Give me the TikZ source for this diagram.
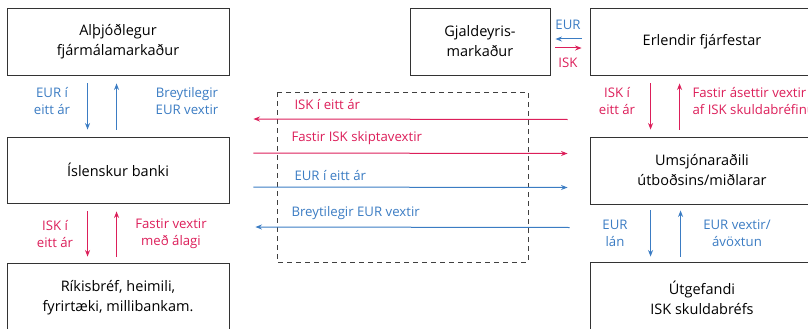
\documentclass[tikz,border=0pt]{standalone}
\usepackage{fontspec}
\setmainfont{Open Sans}
\usepackage{xcolor}
\usetikzlibrary{arrows.meta,positioning}
\definecolor{iskred}{HTML}{DC1F5A}
\definecolor{eurblue}{HTML}{3B7CC3}

\begin{document}
\begin{tikzpicture}[x=1pt,y=-1pt,
  box/.style={draw=black!80, line width=0.9pt, minimum width=222pt,
    minimum height=67pt, inner sep=0pt, align=center,
    font=\fontsize{14.5}{20}\selectfont},
  lab/.style={font=\fontsize{13.2}{17}\selectfont, align=center},
  isk/.style={iskred, line width=1pt, -{Stealth[length=6.5pt,width=5pt]}},
  eur/.style={eurblue, line width=1pt, -{Stealth[length=6.5pt,width=5pt]}}]
\useasboundingbox (0,0) rectangle (808,329);
% ---- left column ----
\node[box] (alth) at (118,41.5) {Alþjóðlegur\\fjármálamarkaður};
\node[box, minimum height=66pt] (bank) at (118,170) {Íslenskur banki};
\node[box, minimum height=70pt] (rikis) at (118,298)
  {Ríkisbréf, heimili,\\fyrirtæki, millibankam.};
\draw[eur] ([xshift=81,yshift=-8]alth.south west) -- ([xshift=81,yshift=7]bank.north west);
\draw[eur] ([xshift=110,yshift=7]bank.north west) -- ([xshift=110,yshift=-8]alth.south west);
\node[lab, eurblue] (eurar) at (52,101.5) {EUR í\\eitt ár};
\node[lab, eurblue] (breyt) at (187,101.5) {Breytilegir\\EUR vextir};
\draw[isk] ([xshift=81,yshift=-8]bank.south west) -- ([xshift=81,yshift=6]rikis.north west);
\draw[isk] ([xshift=110,yshift=6]rikis.north west) -- ([xshift=110,yshift=-8]bank.south west);
\node[lab, iskred] (iskar) at (55,234) {ISK í\\eitt ár};
\node[lab, iskred] (alag) at (171,234) {Fastir vextir\\með álagi};
% ---- right column ----
\node[box, minimum width=140pt] (gjald) at (480,41.5) {Gjaldeyris-\\markaður};
\node[box, minimum width=224pt] (erl) at (702,41.5) {Erlendir fjárfestar};
\node[box, minimum width=224pt] (umsj) at (702,170.5)
  {Umsjónaraðili\\útboðsins/miðlarar};
\node[box, minimum width=224pt, minimum height=72pt] (utg) at (702,298)
  {Útgefandi\\ISK skuldabréfs};
\draw[eur] ([xshift=-8,yshift=2.5]erl.west) -- ([xshift=5,yshift=2.5]gjald.east);
\draw[isk] ([xshift=5,yshift=-6.5]gjald.east) -- ([xshift=-8,yshift=-6.5]erl.west);
\node[lab, eurblue] (fxeur) at (568,25) {EUR};
\node[lab, iskred] (fxisk) at (568,63) {ISK};
\draw[isk] ([xshift=61,yshift=-8]erl.south west) -- ([xshift=61,yshift=7]umsj.north west);
\draw[isk] ([xshift=90,yshift=7]umsj.north west) -- ([xshift=90,yshift=-8]erl.south west);
\node[lab, iskred] (iskerl) at (617,101.5) {ISK í\\eitt ár};
\node[lab, iskred, align=left, anchor=west] (asett) at (689,101.5)
  {Fastir ásettir vextir\\af ISK skuldabréfinu};
\draw[eur] ([xshift=61,yshift=-6]umsj.south west) -- ([xshift=61,yshift=5]utg.north west);
\draw[eur] ([xshift=91,yshift=5]utg.north west) -- ([xshift=91,yshift=-6]umsj.south west);
\node[lab, eurblue] (lan) at (615,233.5) {EUR\\lán};
\node[lab, eurblue] (avoxt) at (737,233.5) {EUR vextir/\\ávöxtun};
% ---- swap ----
\draw[black!75, line width=0.9pt, dash pattern=on 5pt off 4pt] (277,92) rectangle (528,262);
\draw[isk] ([xshift=-22,yshift=51]umsj.west) -- ([xshift=24,yshift=51]bank.east);
\draw[isk] ([xshift=24,yshift=17]bank.east) -- ([xshift=-22,yshift=17]umsj.west);
\draw[eur] ([xshift=24,yshift=-17]bank.east) -- ([xshift=-22,yshift=-17]umsj.west);
\draw[eur] ([xshift=-20,yshift=-57]umsj.west) -- ([xshift=26,yshift=-57]bank.east);
\node[lab, iskred, anchor=west] (swisk) at (291,105) {ISK í eitt ár};
\node[lab, iskred, anchor=west] (swfast) at (288,138) {Fastir ISK skiptavextir};
\node[lab, eurblue, anchor=west] (sweur) at (291,176) {EUR í eitt ár};
\node[lab, eurblue, anchor=west] (swbreyt) at (288,213) {Breytilegir EUR vextir};
\end{tikzpicture}
\end{document}
